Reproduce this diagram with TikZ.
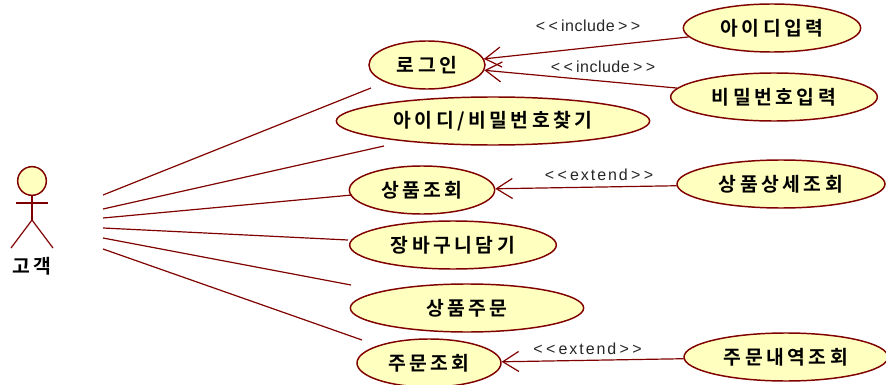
\documentclass[tikz,border=0pt]{standalone}
\usepackage{fontspec}
\setmainfont{Liberation Sans}
\newfontfamily\krfont[LetterSpace=18,BoldFont={Noto Sans CJK KR Bold}]{Noto Sans CJK KR}
\newfontfamily\stfont[LetterSpace=3]{Liberation Sans}
\newfontfamily\stwide[LetterSpace=12]{Liberation Sans}
\usetikzlibrary{arrows.meta,shapes.geometric}
\definecolor{umlline}{HTML}{800000}
\definecolor{umlfill}{HTML}{FFFFC0}
\newcommand{\stereotype}[1]{<\kern2.5pt<\kern2.5pt#1\kern2.5pt>\kern2.5pt>}
\tikzset{
  usecase/.style={ellipse, draw=umlline, fill=umlfill, line width=1.1pt, inner sep=0pt, font=\krfont\bfseries\fontsize{14.5}{16}\selectfont, text=black},
  assoc/.style={draw=umlline, line width=0.9pt},
  dep/.style={draw=umlline, line width=0.9pt, -{Straight Barb[length=12pt,width=15pt,line width=0.9pt]}},
  stereo/.style={font=\stfont\fontsize{12}{14}\selectfont, text=black!85, inner sep=0pt},
  stereox/.style={font=\stwide\fontsize{12}{14}\selectfont, text=black!85, inner sep=0pt}
}
\begin{document}
\begin{tikzpicture}[x=0.75pt, y=-0.75pt]
\useasboundingbox (0, 0) rectangle (886, 385);
\path (427, 65) node (login)[usecase, minimum width=87pt, minimum height=36pt] {로그인}
(493, 121) node (findid)[usecase, minimum width=235pt, minimum height=36pt] {아이디/비밀번호찾기}
(422, 190) node (search)[usecase, minimum width=109pt, minimum height=36pt] {상품조회}
(453, 245) node (cart)[usecase, minimum width=155pt, minimum height=36pt] {장바구니담기}
(467, 308) node (order)[usecase, minimum width=175pt, minimum height=36pt] {상품주문}
(429, 363) node (history)[usecase, minimum width=108pt, minimum height=36pt] {주문조회}
(772, 28) node (idinput)[usecase, minimum width=133pt, minimum height=36pt] {아이디입력}
(774, 97) node (pwinput)[usecase, minimum width=155pt, minimum height=36pt] {비밀번호입력}
(781, 184) node (detail)[usecase, minimum width=156pt, minimum height=36pt] {상품상세조회}
(786, 357) node (orderdetail)[usecase, minimum width=153pt, minimum height=36pt] {주문내역조회};
% actor
\path (32, 181) node (head)[circle, draw=umlline, fill=umlfill, line width=1.1pt, minimum size=21.5pt, inner sep=0pt] {}
(32, 266) node (actor)[font=\krfont\bfseries\fontsize{14.5}{16}\selectfont] {고객};
\coordinate (neck) at (32, 195);
\coordinate (hip) at (32, 220);
\coordinate (armL) at (16, 203);
\coordinate (armR) at (48, 203);
\coordinate (legL) at (11, 248);
\coordinate (legR) at (53, 248);
\draw[assoc] (head) -- (hip);
\draw[assoc] (armL) -- (armR);
\draw[assoc] (legL) -- (hip) -- (legR);
% associations
\coordinate (a1) at (103, 195);
\coordinate (a2) at (103, 209);
\coordinate (a3) at (103, 218);
\coordinate (a4) at (103, 228);
\coordinate (a5) at (103, 238);
\coordinate (a6) at (103, 249);
\coordinate (b1) at (371, 88);
\coordinate (b2) at (384, 146);
\coordinate (b3) at (352, 195);
\coordinate (b4) at (348, 240);
\coordinate (b5) at (351, 285);
\coordinate (b6) at (362, 340);
\draw[assoc] (a1) -- (b1);
\draw[assoc] (a2) -- (b2);
\draw[assoc] (a3) -- (b3);
\draw[assoc] (a4) -- (b4);
\draw[assoc] (a5) -- (b5);
\draw[assoc] (a6) -- (b6);
% dependencies
\draw[dep] (idinput) -- (login);
\draw[dep] (pwinput) -- (login);
\draw[dep] (detail) -- (search);
\draw[dep] (orderdetail) -- (history);
\path (588, 26) node (inc1)[stereo] {\stereotype{include}}
(603, 67) node (inc2)[stereo] {\stereotype{include}}
(599, 175) node (ext1)[stereox] {\stereotype{extend}}
(587.5, 349) node (ext2)[stereox] {\stereotype{extend}};
\end{tikzpicture}
\end{document}
